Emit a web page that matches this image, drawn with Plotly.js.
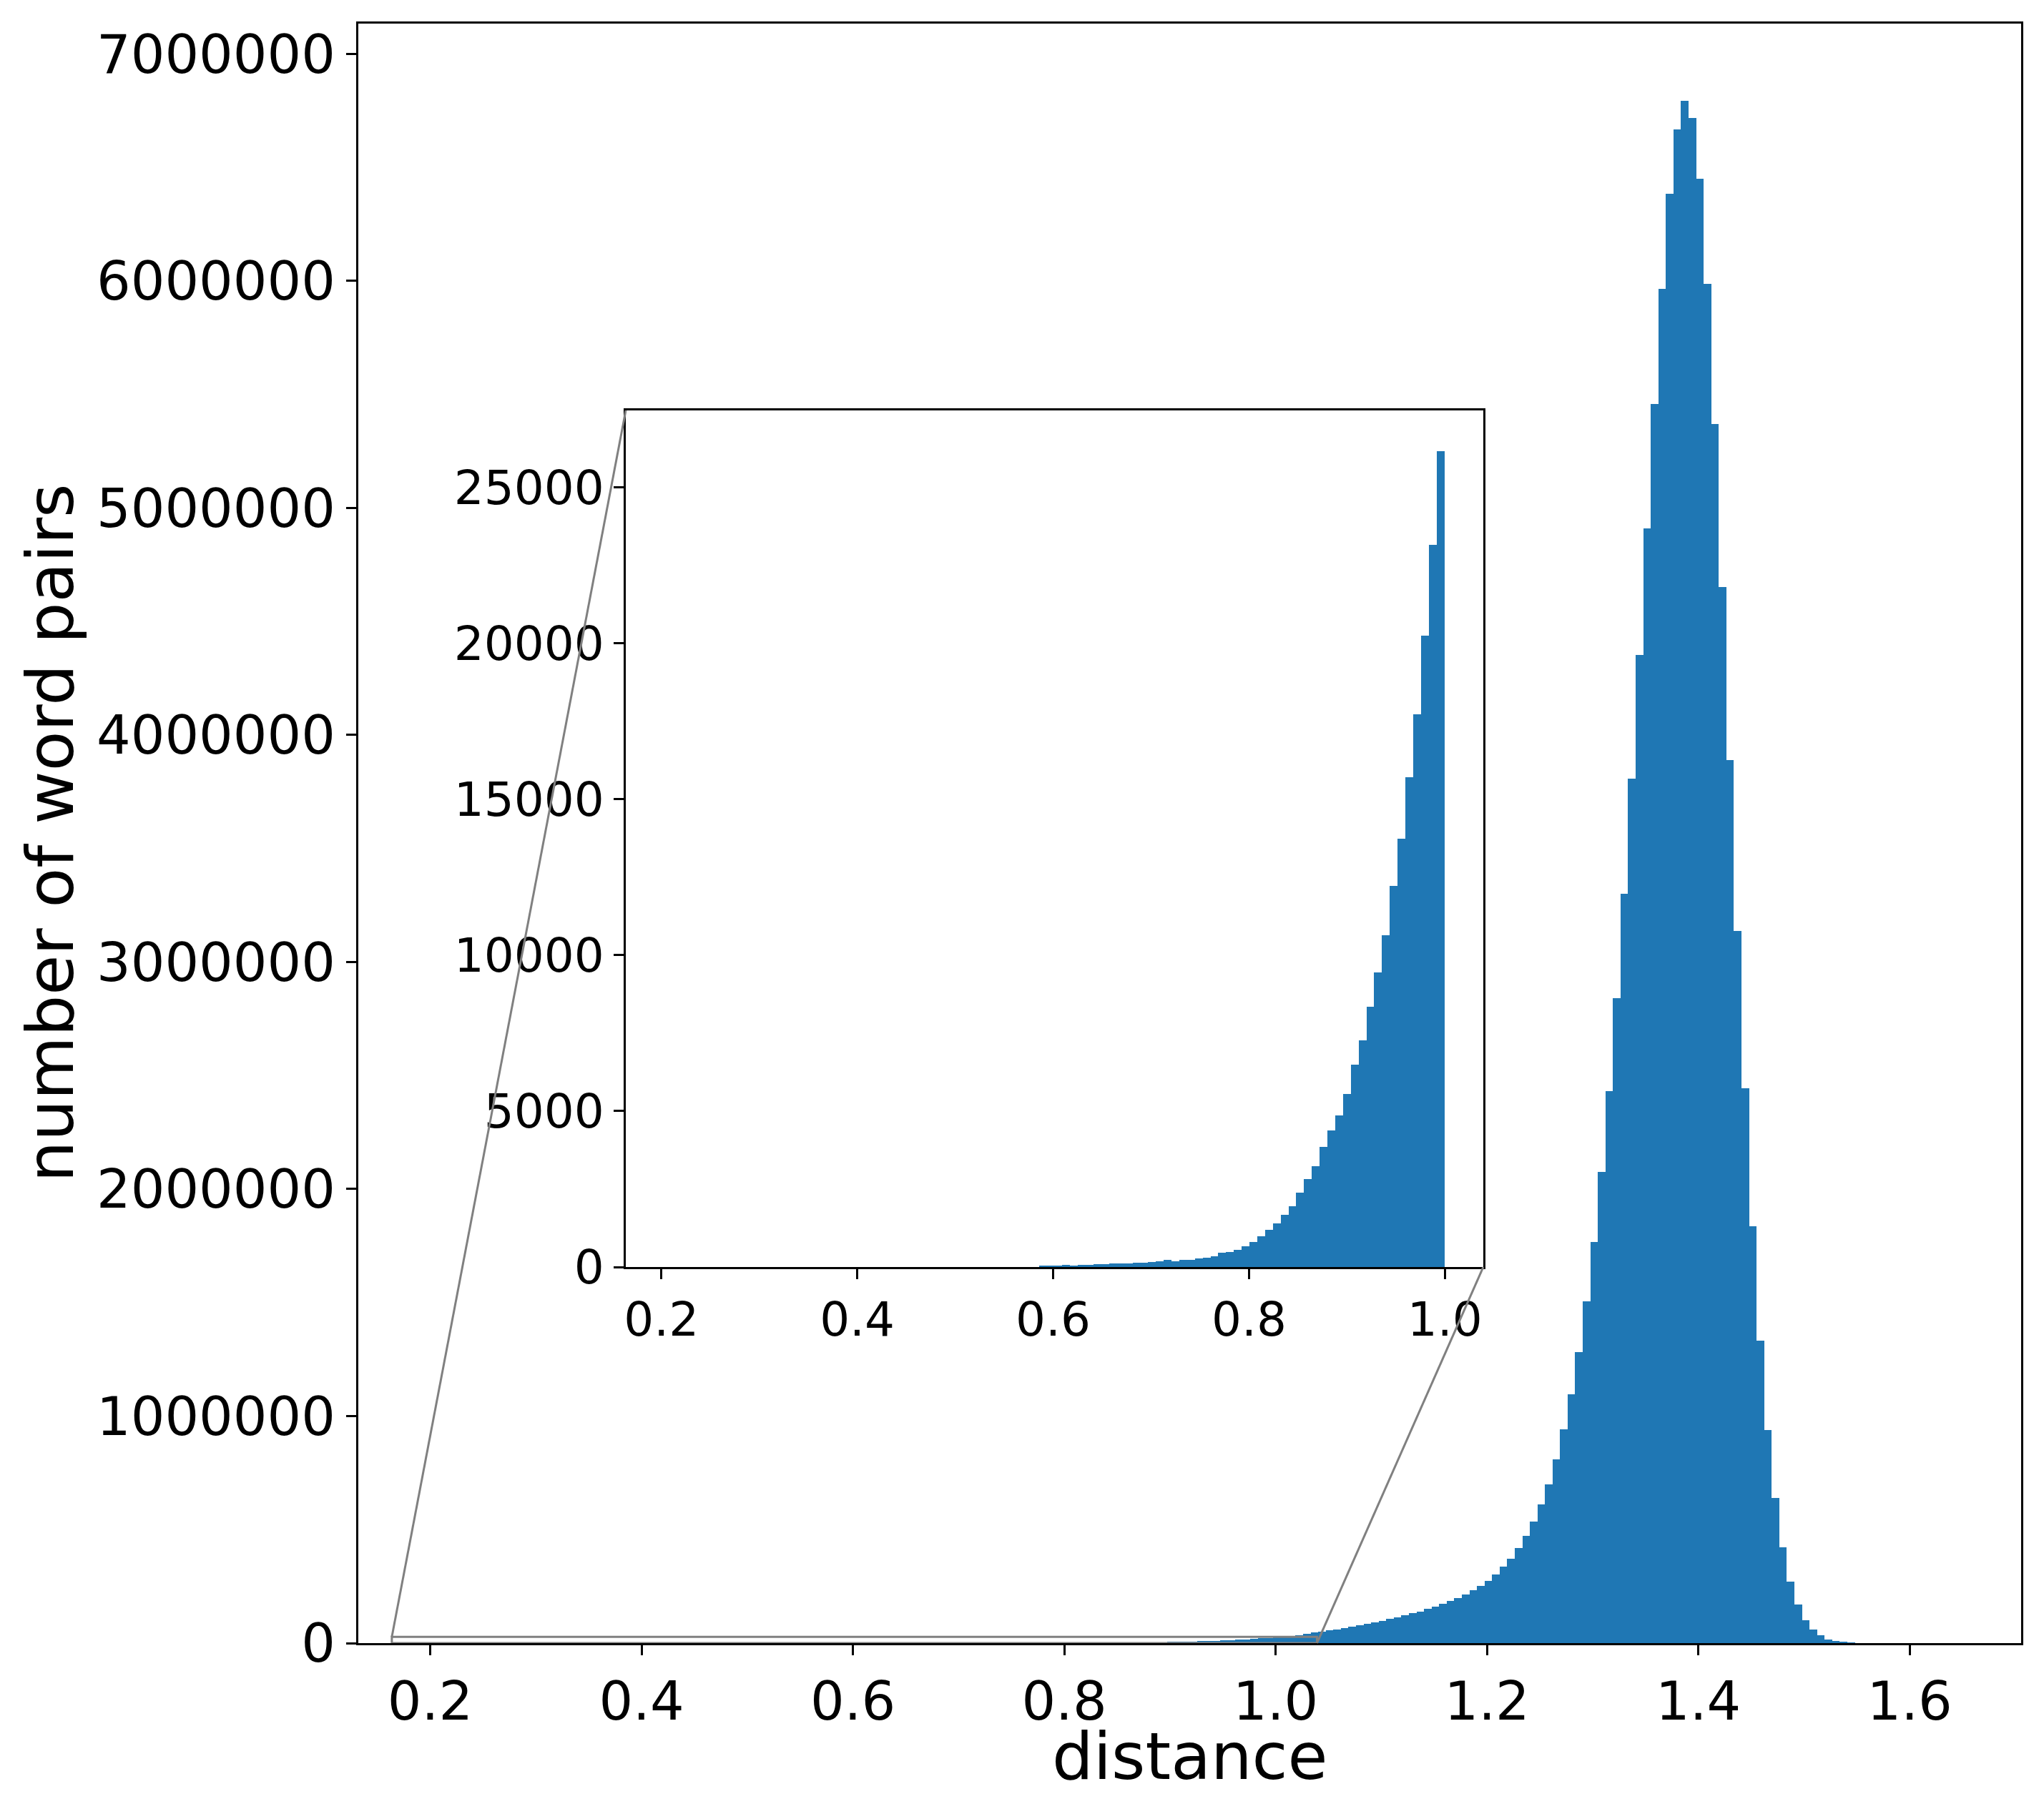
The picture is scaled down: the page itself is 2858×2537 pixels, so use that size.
<!DOCTYPE html>
<html><head><meta charset="utf-8">
<script src="https://cdn.plot.ly/plotly-3.0.1.min.js"></script>
<style>html,body{margin:0;padding:0;background:#fff}</style>
</head><body>
<div id="chart" style="width:2858px;height:2537px"></div>
<script>
// ---- data ----
const mainBinRange = [0.2035, 1.634];   // histogram data range, 200 bins
const mainCounts = [
1,0,0,0,0,1,0,0,1,0,
1,1,0,1,2,1,2,2,3,2,
3,4,3,5,4,6,5,7,8,7,
9,10,11,12,13,14,15,16,17,18,
19,20,21,22,24,25,27,29,31,33,
35,37,40,42,45,
50,55,60,70,80,
85,95,105,110,115,
120,150,140,170,180,
200,185,170,205,210,
240,260,290,340,420,
440,490,600,720,850,
1010,1190,1380,1500,1750,
2140,2500,2800,3250,3700,
4150,4600,5150,5850,6550,
7450,8350,
9000,10300,11600,13000,14400,16100,18000,20600,23000,26000,29000,32000,36000,
40000,46000,51000,56000,60000,
66000,73000,79000,85000,91000,
99000,108000,113000,123000,133000,
139000,151000,160000,172000,186000,
197000,215000,234000,252000,275000,
303000,338000,372000,419000,473000,
536000,611000,699000,810000,942000,
1096000,1281000,1506000,1768000,2076000,
2431000,2841000,3302000,3807000,4354000,
4911000,5457000,5965000,6383000,6668000,
6794000,6719000,6451000,5987000,5370000,
4653000,3890000,3137000,2443000,1837000,
1332000,938000,640000,423000,271000,
169000,101000,59000,34000,17000,
9000,5000,
3000,1500,800,400,200,100,50,25,10,5,2,1,1
];
const insetBinRange = [0.2035, 0.9994]; // inset histogram range, 100 bins
const insetCounts = [
1,0,0,0,0,0,1,0,0,0,
1,0,1,0,0,1,0,1,1,0,
1,1,0,1,1,1,2,1,2,2,
2,2,3,2,3,3,3,4,3,4,
4,5,5,5,6,6,7,8,
40,42,45,69,40,66,70,92,90,112,
115,118,130,132,172,178,222,176,226,232,
267,290,336,458,481,542,665,794,978,1184,
1390,1666,1940,2376,2811,3224,3860,4380,4865,5545,
6494,7269,8341,9441,10633,12218,13735,15701,17736,20253,
23167,26167
];
const mainXTicks = [0.2,0.4,0.6,0.8,1.0,1.2,1.4,1.6];
const mainYTicks = [0,1000000,2000000,3000000,4000000,5000000,6000000,7000000];
const insetXTicks = [0.2,0.4,0.6,0.8,1.0];
const insetYTicks = [0,5000,10000,15000,20000,25000];
const xTitle = 'distance';
const yTitle = 'number of word pairs';

// ---- build ----
function bins(range, counts){
  const n = counts.length, w = (range[1]-range[0])/n;
  return {w, x: counts.map((_,i)=>range[0]+(i+0.5)*w)};
}
function padRange(r){ const s=r[1]-r[0]; return [r[0]-0.05*s, r[1]+0.05*s]; }

const W = 2858, H = 2537;
const mainDomX = [501/W, 2826/W];
const mainDomY = [(H-2298)/H, (H-33)/H];
const insetDomX = [875/W, 2074/W];
const insetDomY = [(H-1772)/H, (H-574)/H];

const mb = bins(mainBinRange, mainCounts);
const ib = bins(insetBinRange, insetCounts);
const mainXR = padRange(mainBinRange);
const mainYR = [0, Math.max(...mainCounts)*1.05];
const insetXR = padRange(insetBinRange);
const insetYR = [0, Math.max(...insetCounts)*1.05];

const blue = '#1f77b4', gray = '#808080';
const FONT = 'DejaVu Sans';

const traces = [
  {type:'bar', x: mb.x, y: mainCounts, width: mb.w, marker:{color:blue, line:{width:0}}, xaxis:'x', yaxis:'y', hoverinfo:'skip'},
  {type:'bar', x: ib.x, y: insetCounts, width: ib.w, marker:{color:blue, line:{width:0}}, xaxis:'x2', yaxis:'y2', hoverinfo:'skip'}
];

function axisCommon(size){
  return {showgrid:false, zeroline:false, showline:true, linecolor:'black', linewidth:3, mirror:true,
    ticks:'outside', ticklen:14, tickwidth:3, tickcolor:'black',
    tickfont:{family:FONT, size:size, color:'black'}, fixedrange:true};
}

function px(xd){ return mainDomX[0] + (xd-mainXR[0])/(mainXR[1]-mainXR[0])*(mainDomX[1]-mainDomX[0]); }
function py(yd){ return mainDomY[0] + (yd-mainYR[0])/(mainYR[1]-mainYR[0])*(mainDomY[1]-mainDomY[0]); }

const layout = {
  width: W, height: H, margin:{l:0,r:0,t:0,b:0,pad:0},
  paper_bgcolor:'white', plot_bgcolor:'white', showlegend:false, bargap:0,
  font:{family:FONT, color:'black'},
  xaxis: Object.assign(axisCommon(75), {domain: mainDomX, range: mainXR, tickvals: mainXTicks, tickformat:'.1f', anchor:'y'}),
  yaxis: Object.assign(axisCommon(75), {domain: mainDomY, range: mainYR, tickvals: mainYTicks, tickformat:'d', anchor:'x'}),
  xaxis2: Object.assign(axisCommon(66), {domain: insetDomX, range: insetXR, tickvals: insetXTicks, tickformat:'.1f', anchor:'y2'}),
  yaxis2: Object.assign(axisCommon(66), {domain: insetDomY, range: insetYR, tickvals: insetYTicks, tickformat:'d', anchor:'x2'}),
  shapes: [
    {type:'rect', xref:'x', yref:'y', x0: insetXR[0], x1: insetXR[1], y0: insetYR[0], y1: insetYR[1],
     line:{color:gray, width:3}, fillcolor:'rgba(0,0,0,0)', layer:'above'},
    {type:'line', xref:'paper', yref:'paper', x0: px(insetXR[0]), y0: py(insetYR[1]), x1: insetDomX[0], y1: insetDomY[1],
     line:{color:gray, width:3}, layer:'above'},
    {type:'line', xref:'paper', yref:'paper', x0: px(insetXR[1]), y0: py(insetYR[0]), x1: insetDomX[1], y1: insetDomY[0],
     line:{color:gray, width:3}, layer:'above'}
  ],
  annotations: [
    {text: xTitle, xref:'paper', yref:'paper', x: (mainDomX[0]+mainDomX[1])/2, y: (H-2456)/H,
     xanchor:'center', yanchor:'middle', showarrow:false, font:{family:FONT, size:91, color:'black'}},
    {text: yTitle, xref:'paper', yref:'paper', x: 70/W, y: (mainDomY[0]+mainDomY[1])/2, textangle:-90,
     xanchor:'center', yanchor:'middle', showarrow:false, font:{family:FONT, size:91, color:'black'}}
  ]
};

Plotly.newPlot('chart', traces, layout, {displayModeBar:false, staticPlot:true});
</script>
</body></html>
